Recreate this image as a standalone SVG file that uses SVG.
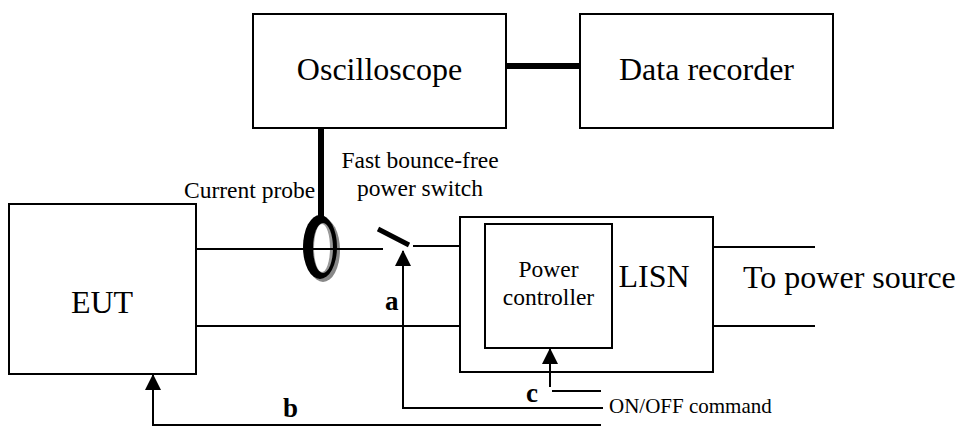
<svg xmlns="http://www.w3.org/2000/svg" width="960" height="429" viewBox="0 0 960 429">
<style>
.box{fill:#fff;stroke:#000;stroke-width:2}
.w{stroke:#000;stroke-width:2;fill:none}
.thick{stroke:#000;stroke-width:6;fill:none}
text{font-family:"Liberation Serif",Tinos,"Times New Roman","DejaVu Serif",serif;fill:#000}
.big{font-size:32px}
.mid{font-size:23.5px}
.lbl{font-size:27px;font-weight:bold}
</style>
<defs>
<marker id="ah" markerWidth="16" markerHeight="16" refX="15" refY="8" orient="auto" markerUnits="userSpaceOnUse">
<path d="M0,0 L16,8 L0,16 Z" fill="#000"/>
</marker>
</defs>
<rect width="960" height="429" fill="#fff"/>
<g id="oscilloscope">
<rect class="box" x="253" y="14" width="253" height="114"/>
<text class="big" x="379.5" y="80" text-anchor="middle" font-family="Liberation Serif, serif">Oscilloscope</text>
</g>
<g id="data-recorder">
<rect class="box" x="580" y="14" width="253" height="114"/>
<text class="big" x="706.5" y="80" text-anchor="middle" font-family="Liberation Serif, serif">Data recorder</text>
</g>
<g id="eut">
<rect class="box" x="9" y="204" width="187" height="170"/>
<text class="big" x="102" y="313" text-anchor="middle" font-family="Liberation Serif, serif" font-size="31">EUT</text>
</g>
<g id="lisn">
<rect class="box" x="460" y="217" width="253" height="155"/>
<text class="big" x="654" y="287" text-anchor="middle" font-family="Liberation Serif, serif">LISN</text>
</g>
<g id="power-controller">
<rect class="box" x="485" y="224" width="127" height="124"/>
<text class="mid" x="548.5" y="277" text-anchor="middle" font-family="Liberation Serif, serif">Power</text>
<text class="mid" x="548.5" y="305" text-anchor="middle" font-family="Liberation Serif, serif">controller</text>
</g>
<g id="connectors">
<line class="thick" x1="506" y1="66" x2="580" y2="66"/>
<line class="thick" x1="321" y1="128" x2="321" y2="218"/>
<line class="w" x1="196" y1="249" x2="383" y2="249"/>
<line class="w" x1="196" y1="326" x2="460" y2="326"/>
<line x1="378" y1="229" x2="409" y2="245" stroke="#000" stroke-width="5"/>
<line class="w" x1="413" y1="246" x2="460" y2="246"/>
<line class="w" x1="713" y1="247" x2="815" y2="247"/>
<line class="w" x1="713" y1="326" x2="815" y2="326"/>
<polyline class="w" points="603,408 403,408 403,251" marker-end="url(#ah)"/>
<line class="w" x1="550" y1="387" x2="550" y2="349" marker-end="url(#ah)"/>
<line class="w" x1="552" y1="391" x2="601" y2="391"/>
<polyline class="w" points="601,425 153,425 153,375" marker-end="url(#ah)"/>
</g>
<g id="current-probe">
<ellipse cx="323" cy="250" rx="17" ry="32" fill="#888"/>
<ellipse cx="320" cy="247" rx="17" ry="32" fill="#000"/>
<ellipse cx="323" cy="248" rx="10" ry="25" fill="#999"/>
<ellipse cx="322" cy="248" rx="8" ry="24" fill="#fff"/>
<line class="w" x1="300" y1="249" x2="345" y2="249"/>
<text class="mid" x="184" y="198" font-family="Liberation Serif, serif" font-size="24">Current probe</text>
</g>
<g id="power-switch">
<text class="mid" x="420" y="168" text-anchor="middle" font-family="Liberation Serif, serif">Fast bounce-free</text>
<text class="mid" x="420" y="196" text-anchor="middle" font-family="Liberation Serif, serif">power switch</text>
</g>
<g id="labels">
<text class="big" x="743" y="288" font-family="Liberation Serif, serif">To power source</text>
<text class="lbl" x="385" y="310" font-family="Liberation Serif, serif">a</text>
<text class="lbl" x="283" y="417" font-family="Liberation Serif, serif">b</text>
<text class="lbl" x="526" y="402" font-family="Liberation Serif, serif">c</text>
<text x="609" y="413" font-size="21" font-family="Liberation Serif, serif">ON/OFF command</text>
</g>
</svg>
